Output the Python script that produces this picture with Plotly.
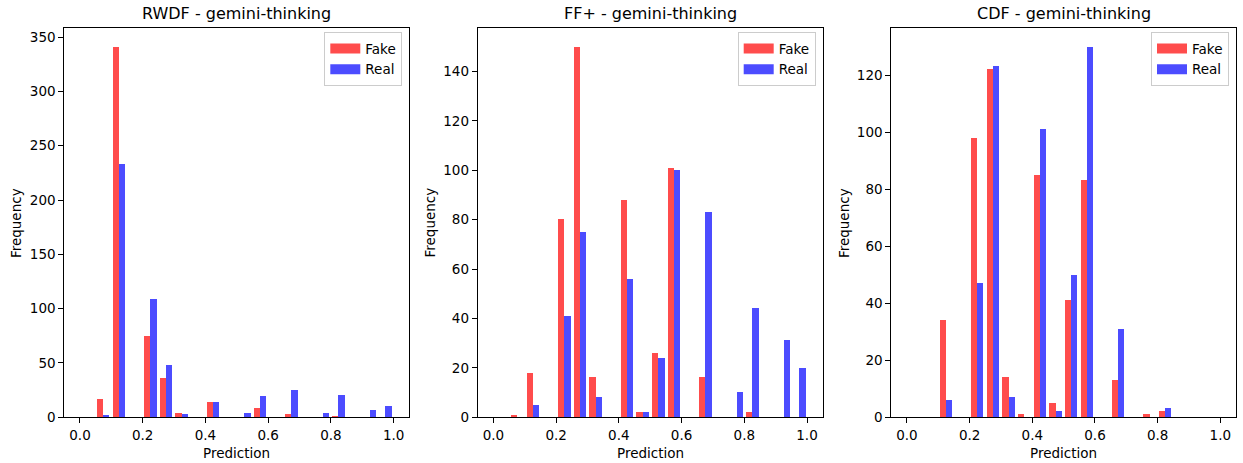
import numpy as np
import plotly.graph_objects as go

# ---- data ----
bin_edges = np.linspace(0.0, 1.0, 21)
panel_titles = ["RWDF - gemini-thinking", "FF+ - gemini-thinking", "CDF - gemini-thinking"]
series_names = ["Fake", "Real"]

rwdf_fake = [0, 17, 341, 0, 75, 36, 4, 0, 14, 0, 0, 8, 0, 3, 0, 0, 1, 0, 0, 0]
rwdf_real = [0, 2, 233, 0, 109, 48, 3, 0, 14, 0, 4, 19, 0, 25, 0, 4, 20, 0, 6, 10]
ff_fake = [0, 1, 18, 0, 80, 150, 16, 0, 88, 2, 26, 101, 0, 16, 0, 0, 2, 0, 0, 0]
ff_real = [0, 0, 5, 0, 41, 75, 8, 0, 56, 2, 24, 100, 0, 83, 0, 10, 44, 0, 31, 20]
cdf_fake = [0, 0, 34, 0, 98, 122, 14, 1, 85, 5, 41, 83, 0, 13, 0, 1, 2, 0, 0, 0]
cdf_real = [0, 0, 6, 0, 47, 123, 7, 0, 101, 2, 50, 130, 0, 31, 0, 0, 3, 0, 0, 0]

x_ticks = [0.0, 0.2, 0.4, 0.6, 0.8, 1.0]
y_dticks = [50, 20, 20]

panels = [(rwdf_fake, rwdf_real), (ff_fake, ff_real), (cdf_fake, cdf_real)]

# ---- styling ----
W, H = 1243, 463
FONT = "DejaVu Sans"
FS = 13.5
colors = ["rgba(255,0,0,0.7)", "rgba(0,0,255,0.7)"]
x_domains = [(64.3, 409.3), (477.7, 822.7), (891.3, 1236.0)]
y_top, y_bot = 28.3, 417.3

binw = np.diff(bin_edges)
centers = bin_edges[:-1] + binw / 2
bar_w = 0.8 * binw / 2
offsets = [-0.5 * 0.8 * binw * 0.5, 0.5 * 0.8 * binw * 0.5]

fig = go.Figure()
annotations = []
layout = {}
for p, (series, title) in enumerate(zip(panels, panel_titles)):
    xa = "x" if p == 0 else f"x{p+1}"
    ya = "y" if p == 0 else f"y{p+1}"
    lg = "legend" if p == 0 else f"legend{p+1}"
    for s, (vals, name) in enumerate(zip(series, series_names)):
        fig.add_trace(go.Bar(
            x=centers + offsets[s], y=vals, width=bar_w,
            marker=dict(color=colors[s], line=dict(width=0)),
            xaxis=xa, yaxis=ya, showlegend=False, name=name,
        ))
        fig.add_trace(go.Scatter(
            x=[None], y=[None], mode="lines", name=name,
            line=dict(color=colors[s], width=10),
            xaxis=xa, yaxis=ya, legend=lg, showlegend=True,
        ))
    x0, x1 = x_domains[p]
    dom_x = [x0 / W, x1 / W]
    dom_y = [(H - y_bot) / H, (H - y_top) / H]
    ymax = max(max(series[0]), max(series[1])) * 1.05
    axis_common = dict(showline=True, linecolor="black", linewidth=1, mirror=True,
                       ticks="outside", ticklen=5, tickwidth=1, tickcolor="black",
                       showgrid=False, zeroline=False, automargin=False,
                       tickfont=dict(family=FONT, size=FS, color="black"))
    xkey = "xaxis" if p == 0 else f"xaxis{p+1}"
    ykey = "yaxis" if p == 0 else f"yaxis{p+1}"
    layout[xkey] = dict(domain=dom_x, range=[-0.05, 1.05], tickvals=x_ticks,
                        tickformat=".1f", anchor=ya, **axis_common)
    layout[ykey] = dict(domain=dom_y, range=[0, ymax], dtick=y_dticks[p],
                        anchor=xa, **axis_common)
    layout[lg] = dict(x=(x1 - 7) / W, y=(H - y_top - 4) / H, xanchor="right", yanchor="top",
                      bgcolor="rgba(255,255,255,0.8)", bordercolor="#cccccc", borderwidth=1,
                      font=dict(family=FONT, size=FS, color="black"),
                      itemwidth=30, tracegroupgap=0)
    cx = (x0 + x1) / 2 / W
    annotations.append(dict(text=title, x=cx, y=(H - 14) / H, xref="paper", yref="paper",
                            xanchor="center", yanchor="middle", showarrow=False,
                            font=dict(family=FONT, size=16, color="black")))
    annotations.append(dict(text="Prediction", x=cx, y=(H - 453) / H, xref="paper", yref="paper",
                            xanchor="center", yanchor="middle", showarrow=False,
                            font=dict(family=FONT, size=FS, color="black")))
    annotations.append(dict(text="Frequency", x=(x0 - 48) / W, y=(H - (y_top + y_bot) / 2) / H,
                            xref="paper", yref="paper", textangle=-90,
                            xanchor="center", yanchor="middle", showarrow=False,
                            font=dict(family=FONT, size=FS, color="black")))

fig.update_layout(
    width=W, height=H, margin=dict(l=0, r=0, t=0, b=0, pad=0, autoexpand=False),
    paper_bgcolor="white", plot_bgcolor="white",
    barmode="overlay", bargap=0,
    annotations=annotations, **layout,
)
fig.write_html("out.html", config={"displayModeBar": False, "responsive": False},
               post_script="document.body.style.margin='0';document.body.style.padding='0';")
